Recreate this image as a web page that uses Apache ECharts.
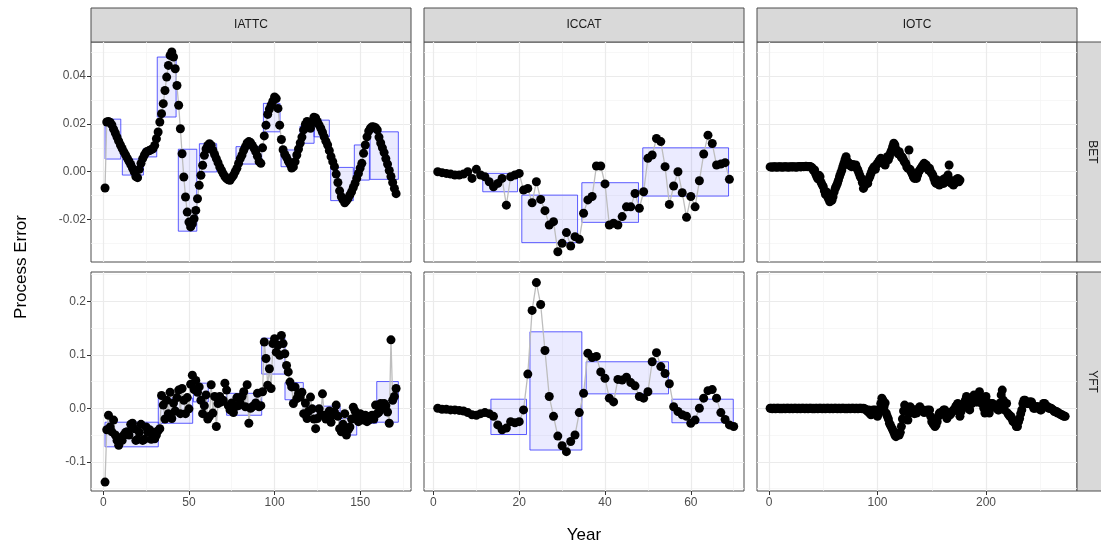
<!DOCTYPE html>
<html>
<head>
<meta charset="utf-8">
<script src="https://cdn.jsdelivr.net/npm/echarts@6/dist/echarts.min.js"></script>
<style>
  html, body { margin: 0; padding: 0; background: #fff; }
  #chart { width: 1101px; height: 551px; }
</style>
</head>
<body>
<div id="chart"></div>
<script>
// facet labels
const columns = ["IATTC", "ICCAT", "IOTC"];
const rows = ["BET", "YFT"];

// tick values
const xMajor = [[0, 50, 100, 150], [0, 20, 40, 60], [0, 100, 200]];
const xMinor = [[25, 75, 125, 175], [10, 30, 50, 70], [50, 150, 250]];
const yMajor = [[-0.02, 0, 0.02, 0.04], [-0.1, 0, 0.1, 0.2]];
const yMinor = [[-0.03, -0.01, 0.01, 0.03, 0.05], [-0.15, -0.05, 0.05, 0.15, 0.25]];

// process error by year (year 1, 2, ...)
const iattcBet = [
  -0.0068, 0.0208, 0.0210, 0.0206, 0.0196, 0.0178, 0.0162, 0.0145, 0.0128, 0.0112,
  0.0097, 0.0083, 0.0070, 0.0057, 0.0044, 0.0030, 0.0015, 0.0000, -0.0020, -0.0025,
  0.0010, 0.0035, 0.0055, 0.0070, 0.0082, 0.0086, 0.0089, 0.0093, 0.0096, 0.0110,
  0.0138, 0.0166, 0.0208, 0.0243, 0.0285, 0.0340, 0.0396, 0.0445, 0.0487, 0.0501,
  0.0480, 0.0431, 0.0361, 0.0278, 0.0180, 0.0075, -0.0022, -0.0106, -0.0169, -0.0211,
  -0.0231, -0.0218, -0.0197, -0.0162, -0.0113, -0.0057, -0.0015, 0.0027, 0.0069, 0.0095,
  0.0110, 0.0117, 0.0110, 0.0089, 0.0072, 0.0055, 0.0038, 0.0020, 0.0006, -0.0008,
  -0.0020, -0.0029, -0.0034, -0.0036, -0.0025, -0.0015, 0.0000, 0.0014, 0.0035, 0.0055,
  0.0070, 0.0090, 0.0105, 0.0120, 0.0126, 0.0122, 0.0110, 0.0098, 0.0084, 0.0065,
  0.0042, 0.0035, 0.0100, 0.0150, 0.0195, 0.0240, 0.0262, 0.0278, 0.0295, 0.0313,
  0.0306, 0.0265, 0.0195, 0.0135, 0.0092, 0.0072, 0.0060, 0.0045, 0.0032, 0.0015,
  0.0020, 0.0042, 0.0070, 0.0095, 0.0120, 0.0145, 0.0175, 0.0198, 0.0210, 0.0195,
  0.0182, 0.0205, 0.0228, 0.0225, 0.0210, 0.0196, 0.0182, 0.0165, 0.0146, 0.0128,
  0.0112, 0.0088, 0.0063, 0.0042, 0.0021, -0.0010, -0.0045, -0.0080, -0.0105, -0.0118,
  -0.0130, -0.0122, -0.0111, -0.0097, -0.0084, -0.0066, -0.0049, -0.0028, -0.0007, 0.0015,
  0.0035, 0.0077, 0.0112, 0.0146, 0.0170, 0.0182, 0.0188, 0.0187, 0.0184, 0.0175,
  0.0145, 0.0120, 0.0100, 0.0080, 0.0055, 0.0032, 0.0005, -0.0020, -0.0045, -0.0070,
  -0.0092
];
const iattcYft = [
  -0.138, -0.040, -0.013, -0.035, -0.044, -0.022, -0.050, -0.060, -0.069, -0.055,
  -0.060, -0.050, -0.045, -0.044, -0.050, -0.030, -0.028, -0.038, -0.060, -0.058,
  -0.045, -0.030, -0.060, -0.058, -0.035, -0.045, -0.040, -0.058, -0.045, -0.057,
  -0.050, -0.042, -0.038, 0.024, 0.006, -0.020, 0.015, -0.010, 0.030, -0.019,
  0.010, -0.005, 0.020, 0.034, -0.010, 0.037, 0.015, -0.010, 0.020, -0.001,
  0.045, 0.062, 0.035, 0.052, 0.030, 0.040, 0.015, -0.010, 0.005, 0.025,
  -0.020, -0.015, 0.044, -0.009, 0.022, -0.034, 0.009, 0.022, 0.012, 0.015,
  0.047, 0.034, 0.005, -0.003, 0.010, -0.008, 0.003, 0.020, 0.005, 0.009,
  0.022, 0.031, 0.003, 0.044, -0.028, 0.000, 0.003, 0.005, 0.010, 0.028,
  0.003, 0.005, 0.031, 0.124, 0.093, 0.043, 0.074, 0.037, 0.121, 0.130,
  0.105, 0.118, 0.099, 0.136, 0.121, 0.102, 0.080, 0.068, 0.049, 0.040,
  0.009, 0.040, 0.018, 0.027, 0.021, 0.030, -0.010, 0.010, -0.019, -0.005,
  0.021, -0.001, -0.020, -0.038, -0.019, -0.001, -0.013, 0.027, -0.013, -0.020,
  -0.013, -0.005, -0.026, -0.012, -0.007, 0.006, -0.015, -0.038, -0.044, -0.030,
  -0.010, -0.050, -0.040, -0.035, -0.020, 0.002, -0.005, -0.019, -0.025, -0.010,
  -0.019, -0.022, -0.013, -0.025, -0.022, -0.015, -0.013, -0.020, 0.006, -0.010,
  -0.007, 0.009, 0.000, 0.009, 0.005, -0.007, -0.028, 0.128, 0.015, 0.022,
  0.037
];
const iccatBet = [
  0.0000, -0.0004, -0.0007, -0.0010, -0.0014, -0.0014, -0.0010, 0.0000, -0.0028, 0.0010,
  -0.0014, -0.0021, -0.0042, -0.0063, -0.0049, -0.0028, -0.0140, -0.0021, -0.0014, -0.0007,
  -0.0077, -0.0070, -0.0130, -0.0042, -0.0116, -0.0163, -0.0223, -0.0209, -0.0335, -0.0300,
  -0.0255, -0.0311, -0.0272, -0.0283, -0.0174, -0.0118, -0.0104, 0.0024, 0.0024, -0.0051,
  -0.0223, -0.0216, -0.0223, -0.0188, -0.0147, -0.0147, -0.0091, -0.0153, -0.0084, 0.0056,
  0.0070, 0.0139, 0.0126, 0.0021, -0.0137, -0.0060, 0.0000, -0.0088, -0.0191, -0.0104,
  -0.0147, -0.0038, 0.0074, 0.0153, 0.0118, 0.0028, 0.0032, 0.0038, -0.0032
];
const iccatYft = [
  0.000, -0.002, -0.002, -0.003, -0.003, -0.004, -0.005, -0.008, -0.012, -0.013,
  -0.010, -0.008, -0.010, -0.015, -0.031, -0.040, -0.037, -0.025, -0.027, -0.025,
  -0.003, 0.064, 0.183, 0.235, 0.194, 0.108, 0.022, -0.015, -0.052, -0.070,
  -0.081, -0.062, -0.050, -0.008, 0.028, 0.103, 0.095, 0.097, 0.068, 0.056,
  0.019, 0.012, 0.054, 0.053, 0.058, 0.048, 0.042, 0.022, 0.019, 0.031,
  0.087, 0.104, 0.078, 0.065, 0.046, 0.003, -0.006, -0.012, -0.015, -0.028,
  -0.022, 0.000, 0.019, 0.033, 0.035, 0.019, -0.008, -0.021, -0.031, -0.034
];
const iotcBet = [
  0.0020, 0.0020, 0.0019, 0.0020, 0.0021, 0.0020, 0.0019, 0.0020, 0.0020, 0.0021,
  0.0020, 0.0019, 0.0020, 0.0020, 0.0021, 0.0020, 0.0020, 0.0019, 0.0020, 0.0021,
  0.0020, 0.0020, 0.0021, 0.0020, 0.0019, 0.0020, 0.0021, 0.0022, 0.0020, 0.0021,
  0.0022, 0.0021, 0.0022, 0.0023, 0.0022, 0.0021, 0.0022, 0.0022, 0.0018, 0.0015,
  0.0005, 0.0007, -0.0010, -0.0020, -0.0030, -0.0015, -0.0021, -0.0045, -0.0055, -0.0063,
  -0.0080, -0.0095, -0.0085, -0.0105, -0.0115, -0.0126, -0.0110, -0.0120, -0.0105, -0.0085,
  -0.0070, -0.0060, -0.0049, -0.0035, -0.0020, -0.0007, 0.0005, 0.0021, 0.0035, 0.0050,
  0.0063, 0.0045, 0.0035, 0.0035, 0.0025, 0.0021, 0.0030, 0.0028, 0.0020, 0.0028,
  0.0015, 0.0005, -0.0007, -0.0020, -0.0028, -0.0045, -0.0070, -0.0060, -0.0049, -0.0040,
  -0.0049, -0.0030, -0.0020, -0.0007, 0.0005, 0.0014, 0.0021, 0.0010, 0.0028, 0.0035,
  0.0042, 0.0049, 0.0056, 0.0040, 0.0035, 0.0042, 0.0028, 0.0045, 0.0063, 0.0050,
  0.0063, 0.0080, 0.0090, 0.0105, 0.0119, 0.0112, 0.0095, 0.0084, 0.0075, 0.0084,
  0.0070, 0.0060, 0.0060, 0.0049, 0.0040, 0.0035, 0.0020, 0.0014, 0.0091, 0.0010,
  0.0000, -0.0010, -0.0021, -0.0028, -0.0020, -0.0028, -0.0014, 0.0000, 0.0007, 0.0014,
  0.0021, 0.0028, 0.0035, 0.0021, 0.0028, 0.0014, 0.0007, 0.0014, 0.0000, -0.0007,
  -0.0014, -0.0028, -0.0042, -0.0049, -0.0035, -0.0049, -0.0056, -0.0042, -0.0049, -0.0035,
  -0.0049, -0.0028, -0.0042, -0.0035, -0.0014, 0.0028, -0.0035, -0.0049, -0.0042, -0.0056,
  -0.0049, -0.0035, -0.0042, -0.0028, -0.0042, -0.0035
];
const iotcYft = [
  0.000, 0.000, -0.001, 0.000, 0.000, -0.001, 0.000, 0.000, 0.000, -0.001,
  0.000, -0.001, 0.000, 0.000, -0.001, 0.000, 0.000, 0.000, -0.001, 0.000,
  0.000, -0.001, 0.000, 0.000, 0.000, -0.001, 0.000, 0.000, -0.001, 0.000,
  0.000, 0.000, -0.001, 0.000, 0.000, -0.001, 0.000, 0.000, 0.000, -0.001,
  0.000, -0.001, 0.000, 0.000, -0.001, 0.000, 0.000, 0.000, -0.001, 0.000,
  0.000, -0.001, 0.000, 0.000, 0.000, -0.001, 0.000, 0.000, -0.001, 0.000,
  0.000, 0.000, -0.001, 0.000, 0.000, -0.001, 0.000, 0.000, 0.000, -0.001,
  0.000, -0.001, 0.000, 0.000, -0.001, 0.000, 0.000, 0.000, -0.001, 0.000,
  0.000, -0.001, 0.000, 0.000, 0.000, -0.001, 0.000, -0.001,
  -0.002, -0.004, -0.006, -0.003, -0.010, -0.012, -0.006, -0.003, -0.008, -0.003,
  -0.012, -0.015, -0.010, -0.002, 0.009, 0.019, 0.015, 0.003, 0.010, -0.009,
  -0.015, -0.020, -0.028, -0.032, -0.036, -0.040, -0.045, -0.050, -0.053, -0.050,
  -0.048, -0.050, -0.045, -0.034, -0.020, -0.005, 0.006, 0.000, -0.003, -0.022,
  -0.010, 0.003, 0.000, -0.006, -0.003, -0.010, -0.006, -0.009, -0.004, 0.000,
  0.003, -0.002, -0.005, -0.003, -0.008, -0.006, -0.006, -0.003, -0.006, -0.003,
  -0.015, -0.025, -0.028, -0.031, -0.034, -0.031, -0.025, -0.015, -0.009, -0.012,
  -0.009, -0.006, -0.003, -0.003, -0.010, -0.019, -0.015, -0.009, -0.012, -0.009,
  -0.006, -0.003, -0.003, 0.003, 0.006, 0.009, -0.006, -0.015, -0.006, 0.003,
  0.003, 0.010, 0.015, 0.022, 0.010, 0.000, -0.003, 0.009, 0.009, 0.015,
  0.025, 0.018, 0.012, 0.012, 0.020, 0.031, 0.015, 0.009, 0.009, 0.000,
  -0.009, 0.022, 0.012, 0.000, -0.009, 0.000, 0.009, 0.009, 0.005, 0.003,
  0.003, 0.000, -0.003, -0.003, 0.010, 0.025, 0.034, 0.015, -0.003, 0.009,
  0.009, -0.009, -0.012, -0.015, -0.015, -0.020, -0.025, -0.025, -0.028, -0.034,
  -0.034, -0.025, -0.019, -0.010, -0.003, 0.009, 0.015, 0.015, 0.010, 0.009,
  0.009, 0.012, 0.012, 0.012, 0.006, 0.000, 0.000, 0.003, 0.003, 0.003,
  0.000, -0.003, -0.003, 0.003, 0.009, 0.009, 0.006, 0.003, 0.003, 0.000,
  0.000, 0.000, -0.002, -0.003, -0.006, -0.006, -0.006, -0.009, -0.009, -0.010,
  -0.012, -0.012, -0.014, -0.015, -0.015
];

// regime boxes: [yearStart, yearEnd, low, high]
const iattcBetBoxes = [
  [1, 10.2, 0.0053, 0.0220], [11.1, 23.4, -0.0014, 0.0053], [23.4, 31.2, 0.0062, 0.0096],
  [31.5, 42.5, 0.0229, 0.0480], [43.8, 54.6, -0.0249, 0.0094], [56.1, 66.2, -0.0001, 0.0117],
  [77.5, 92.5, 0.0032, 0.0105], [93.5, 103.2, 0.0167, 0.0286], [103.8, 112, 0.0021, 0.0091],
  [114.9, 123.1, 0.0119, 0.0191], [123.1, 132, 0.0146, 0.0216], [132.8, 146, -0.0121, 0.0018],
  [146.6, 155.4, -0.0035, 0.0112], [155.8, 172.3, -0.0032, 0.0167]
];
const iattcYftBoxes = [
  [1, 32.1, -0.072, -0.026], [32.1, 52.2, -0.028, 0.019], [52.6, 61.3, 0.012, 0.047],
  [72, 92.5, -0.013, 0.028], [92.5, 106.1, 0.064, 0.131], [106.1, 116.8, 0.016, 0.048],
  [116.8, 138.3, -0.019, 0.004], [138.3, 148, -0.050, -0.019], [148, 159.7, -0.028, -0.009],
  [159.7, 172.3, -0.026, 0.050]
];
const iccatBetBoxes = [
  [11.5, 19.6, -0.0084, -0.0007], [20.6, 33.6, -0.0297, -0.0098],
  [34.6, 47.8, -0.0212, -0.0046], [48.8, 68.8, -0.0102, 0.0100]
];
const iccatYftBoxes = [
  [13.4, 21.7, -0.049, 0.017], [22.5, 34.6, -0.078, 0.143],
  [35.6, 54.8, 0.027, 0.087], [55.6, 69.9, -0.027, 0.017]
];
const iotcBetBoxes = [];
const iotcYftBoxes = [];

// axis limits
const xLim = [[-7.2, 179.7], [-2.2, 72.4], [-11.1, 283.9]];
const yLim = [[-0.0378, 0.0543], [-0.1546, 0.2548]];

// layout (pixels)
const colEdges = [[91, 411], [424, 744], [757, 1077]];
const rowEdges = [[42, 262], [272, 491]];
const font = '"Liberation Sans", Arial, sans-serif';

const panelData = [[iattcBet, iccatBet, iotcBet], [iattcYft, iccatYft, iotcYft]];
const panelBoxes = [[iattcBetBoxes, iccatBetBoxes, iotcBetBoxes], [iattcYftBoxes, iccatYftBoxes, iotcYftBoxes]];

const grids = [], xAxes = [], yAxes = [], series = [];

function renderBox(params, api) {
  const p0 = api.coord([api.value(0), api.value(3)]);
  const p1 = api.coord([api.value(1), api.value(2)]);
  return {
    type: "rect",
    shape: { x: p0[0], y: p0[1], width: p1[0] - p0[0], height: p1[1] - p0[1] },
    style: { fill: "rgba(0,0,255,0.08)", stroke: "rgba(40,40,255,0.75)", lineWidth: 1 },
  };
}

for (let r = 0; r < 2; r++) {
  for (let c = 0; c < 3; c++) {
    const k = grids.length;
    grids.push({
      left: colEdges[c][0], top: rowEdges[r][0],
      width: colEdges[c][1] - colEdges[c][0], height: rowEdges[r][1] - rowEdges[r][0],
      show: true, borderColor: "#4d4d4d", borderWidth: 1, backgroundColor: "#fff",
      containLabel: false, outerBoundsMode: "none",
    });
    const bottomRow = r === 1, leftCol = c === 0;
    // major x
    xAxes.push({
      gridIndex: k, type: "value", min: xLim[c][0], max: xLim[c][1], position: "bottom",
      axisLine: { show: false, onZero: false },
      axisTick: { show: bottomRow, length: 4, lineStyle: { color: "#333" }, customValues: xMajor[c] },
      axisLabel: { show: bottomRow, customValues: xMajor[c], color: "#4d4d4d", fontSize: 12, margin: 6, fontFamily: font },
      splitLine: { show: true, lineStyle: { color: "#ebebeb", width: 1.2 } },
    });
    // minor x
    xAxes.push({
      gridIndex: k, type: "value", min: xLim[c][0], max: xLim[c][1], position: "top",
      axisLine: { show: false, onZero: false },
      axisTick: { show: false, customValues: xMinor[c] },
      axisLabel: { show: false, customValues: xMinor[c] },
      splitLine: { show: true, lineStyle: { color: "#f3f3f3", width: 0.7 } },
    });
    // major y
    yAxes.push({
      gridIndex: k, type: "value", min: yLim[r][0], max: yLim[r][1], position: "left",
      axisLine: { show: false, onZero: false },
      axisTick: { show: leftCol, length: 4, lineStyle: { color: "#333" }, customValues: yMajor[r] },
      axisLabel: {
        show: leftCol, customValues: yMajor[r], color: "#4d4d4d", fontSize: 12, margin: 5, fontFamily: font,
        formatter: (v) => v.toFixed(r === 0 ? 2 : 1),
      },
      splitLine: { show: true, lineStyle: { color: "#ebebeb", width: 1.2 } },
    });
    // minor y
    yAxes.push({
      gridIndex: k, type: "value", min: yLim[r][0], max: yLim[r][1], position: "right",
      axisLine: { show: false, onZero: false },
      axisTick: { show: false, customValues: yMinor[r] },
      axisLabel: { show: false, customValues: yMinor[r] },
      splitLine: { show: true, lineStyle: { color: "#f3f3f3", width: 0.7 } },
    });

    series.push({
      type: "custom", xAxisIndex: 2 * k, yAxisIndex: 2 * k, silent: true, z: 1,
      data: panelBoxes[r][c], encode: { x: [0, 1], y: [2, 3] }, renderItem: renderBox,
    });
    series.push({
      type: "line", xAxisIndex: 2 * k, yAxisIndex: 2 * k, z: 2, silent: true,
      data: panelData[r][c].map((v, i) => [i + 1, v]),
      symbol: "circle", symbolSize: 9, showSymbol: true, showAllSymbol: true,
      itemStyle: { color: "#000" },
      lineStyle: { color: "#bdbdbd", width: 1.3 },
    });
  }
}

// facet strips and axis titles
const graphic = [];
columns.forEach((name, c) => {
  const x0 = colEdges[c][0], w = colEdges[c][1] - colEdges[c][0];
  graphic.push({ type: "rect", shape: { x: x0, y: 8, width: w, height: 34 }, style: { fill: "#d9d9d9", stroke: "#4d4d4d", lineWidth: 1 } });
  graphic.push({ type: "text", x: x0 + w / 2, y: 25, style: { text: name, align: "center", verticalAlign: "middle", fill: "#1a1a1a", font: "12px " + font } });
});
rows.forEach((name, r) => {
  const y0 = rowEdges[r][0], h = rowEdges[r][1] - rowEdges[r][0];
  graphic.push({ type: "rect", shape: { x: 1077, y: y0, width: 30, height: h }, style: { fill: "#d9d9d9", stroke: "#4d4d4d", lineWidth: 1 } });
  graphic.push({ type: "text", x: 1092, y: y0 + h / 2, rotation: -Math.PI / 2, style: { text: name, align: "center", verticalAlign: "middle", fill: "#1a1a1a", font: "12px " + font } });
});
graphic.push({ type: "text", x: 21, y: 267, rotation: Math.PI / 2, style: { text: "Process Error", align: "center", verticalAlign: "middle", fill: "#000", font: "17px " + font } });
graphic.push({ type: "text", x: 584, y: 535, style: { text: "Year", align: "center", verticalAlign: "middle", fill: "#000", font: "17px " + font } });

const myChart = echarts.init(document.getElementById("chart"));
myChart.setOption({
  animation: false,
  backgroundColor: "#fff",
  textStyle: { fontFamily: font },
  grid: grids,
  xAxis: xAxes,
  yAxis: yAxes,
  series,
  graphic,
});
</script>
</body>
</html>
